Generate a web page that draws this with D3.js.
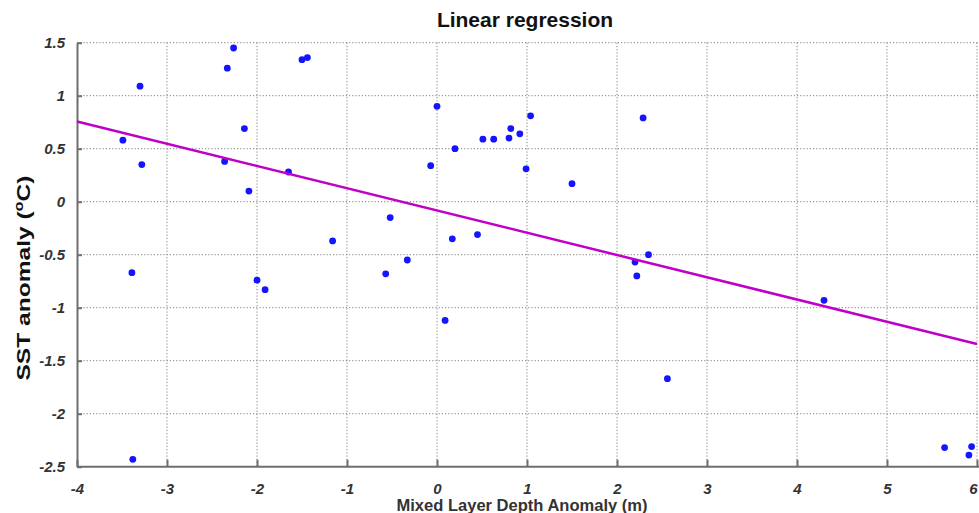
<!DOCTYPE html>
<html>
<head>
<meta charset="utf-8">
<script src="https://cdn.jsdelivr.net/npm/d3@7"></script>
<style>
	body { margin: 0; background: #fff; }
	svg { display: block; font-family: Arial, 'Liberation Sans', sans-serif; }
</style>
</head>
<body>
<svg id="chart" width="979" height="513"></svg>
<script>
// Mixed layer depth anomaly (m)
var mldAnomaly = [
	-3.49, -3.30, -3.28, -3.39, -3.38, -2.26, -2.33, -2.14, -2.36, -2.09,
	-2.00, -1.91, -1.50, -1.44, -1.65, -1.16, -0.52, -0.57, -0.33, 0.00,
	-0.07, 0.20, 0.17, 0.09, 0.45, 0.51, 0.63, 0.80, 0.82, 0.92,
	1.04, 0.99, 1.50, 2.29, 2.35, 2.20, 2.22, 2.56, 4.30, 5.64,
	5.91, 5.94
];

// SST anomaly (oC)
var sstAnomaly = [
	0.58, 1.09, 0.35, -0.67, -2.43, 1.45, 1.26, 0.69, 0.38, 0.10,
	-0.74, -0.83, 1.34, 1.36, 0.28, -0.37, -0.15, -0.68, -0.55, 0.90,
	0.34, 0.50, -0.35, -1.12, -0.31, 0.59, 0.59, 0.60, 0.69, 0.64,
	0.81, 0.31, 0.17, 0.79, -0.50, -0.57, -0.70, -1.67, -0.93, -2.32,
	-2.39, -2.31
];

// Regression line end points
var fitX = [-4, 6];
var fitY = [0.757, -1.343];

// Tick labels
var xTicks = [-4, -3, -2, -1, 0, 1, 2, 3, 4, 5, 6];
var yTicks = [1.5, 1, 0.5, 0, -0.5, -1, -1.5, -2, -2.5];

var svg = d3.select("#chart");

var margin = { top: 42.7, right: 2, bottom: 46.3, left: 77 };
var width = 979 - margin.left - margin.right,
	height = 513 - margin.top - margin.bottom;

var g = svg.append("g").attr("transform", "translate(" + margin.left + "," + margin.top + ")");

var x = d3.scaleLinear().domain([-4, 6]).range([0, width]);
var y = d3.scaleLinear().domain([-2.5, 1.5]).range([height, 0]);

// Grid lines
g.append("g")
	.selectAll("line")
	.data(xTicks.slice(1))
	.enter().append("line")
		.attr("x1", function(d) { return x(d); })
		.attr("x2", function(d) { return x(d); })
		.attr("y1", 0)
		.attr("y2", height)
		.attr("stroke", "#808080")
		.attr("stroke-width", 1)
		.attr("stroke-dasharray", "1.2,2");

g.append("g")
	.selectAll("line")
	.data(yTicks.slice(0, -1))
	.enter().append("line")
		.attr("x1", 0)
		.attr("x2", width + margin.right)
		.attr("y1", function(d) { return y(d); })
		.attr("y2", function(d) { return y(d); })
		.attr("stroke", "#808080")
		.attr("stroke-width", 1)
		.attr("stroke-dasharray", "1.2,2");

// Axes
var fmt = function(d) { return String(d); };

var xAxis = g.append("g")
	.attr("transform", "translate(0," + height + ")")
	.call(d3.axisBottom(x).tickValues(xTicks).tickFormat(fmt).tickSizeInner(-7).tickSizeOuter(0).tickPadding(17));

var yAxis = g.append("g")
	.call(d3.axisLeft(y).tickValues(yTicks).tickFormat(fmt).tickSizeInner(-5).tickSizeOuter(0).tickPadding(12));

[xAxis, yAxis].forEach(function(a) {
	a.select(".domain").attr("stroke", "#6e6e6e").attr("stroke-width", 2);
	a.selectAll(".tick line").attr("stroke", "#6e6e6e").attr("stroke-width", 2);
	a.selectAll(".tick text")
		.attr("fill", "#333")
		.style("font-size", "15px")
		.style("font-weight", "bold")
		.style("font-style", "italic");
});
xAxis.select(".domain").attr("d", "M0,0H" + (width + margin.right));

// last x label sits on the right edge
xAxis.selectAll(".tick text")
	.filter(function(d) { return d === 6; })
	.attr("text-anchor", "end")
	.attr("dx", "0");

// Points
g.append("g")
	.selectAll("circle")
	.data(mldAnomaly)
	.enter().append("circle")
		.attr("cx", function(d) { return x(d); })
		.attr("cy", function(d, i) { return y(sstAnomaly[i]); })
		.attr("r", 3.4)
		.attr("fill", "#1414ff");

// Regression line
g.append("path")
	.datum(fitX)
	.attr("fill", "none")
	.attr("stroke", "#c000c8")
	.attr("stroke-width", 2.5)
	.attr("d", d3.line()
		.x(function(d) { return x(d); })
		.y(function(d, i) { return y(fitY[i]); }));

// Title
svg.append("text")
	.attr("x", 525)
	.attr("y", 27)
	.attr("text-anchor", "middle")
	.attr("fill", "#111")
	.style("font-size", "21px")
	.style("font-weight", "bold")
	.text("Linear regression");

// X label
svg.append("text")
	.attr("x", 522)
	.attr("y", 511)
	.attr("text-anchor", "middle")
	.attr("fill", "#333")
	.attr("textLength", 251)
	.attr("lengthAdjust", "spacingAndGlyphs")
	.style("font-size", "16px")
	.style("font-weight", "bold")
	.text("Mixed Layer Depth Anomaly (m)");

// Y label
var yLabel = svg.append("text")
	.attr("transform", "translate(30,278) rotate(-90)")
	.attr("text-anchor", "middle")
	.attr("fill", "#111")
	.attr("textLength", 205)
	.attr("lengthAdjust", "spacingAndGlyphs")
	.style("font-size", "18px")
	.style("font-weight", "bold");
yLabel.append("tspan").text("SST anomaly (");
yLabel.append("tspan").attr("dy", "-7").style("font-size", "12px").text("o");
yLabel.append("tspan").attr("dy", "7").text("C)");
</script>
</body>
</html>
